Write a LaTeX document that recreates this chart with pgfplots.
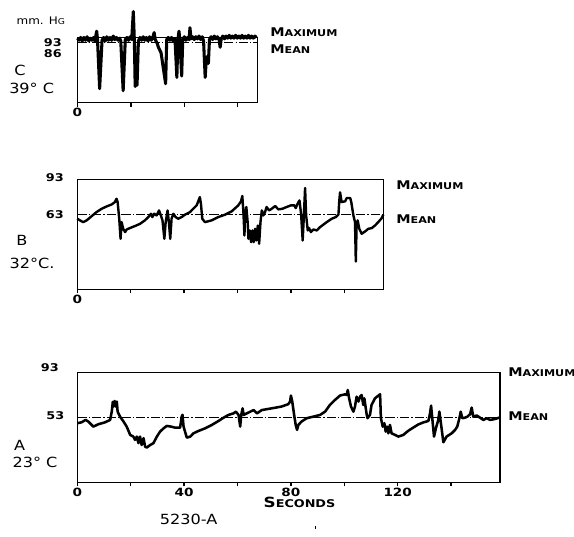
\documentclass[border=0pt]{standalone}
\usepackage{pgfplots}
\pgfplotsset{compat=1.18}
\usepackage{fontspec}
\setmainfont{DejaVu Sans}
\newfontfamily\lett[FakeStretch=1.15]{DejaVu Sans}
\newfontfamily\lettb[FakeStretch=1.2]{DejaVu Sans Bold}

% small-caps style lettering: big first letter, small rest
\newcommand\smc[2]{#1{\fontsize{7}{7}\selectfont #2}}

\pgfplotsset{
  panel/.style={scale only axis, anchor=south west,
    axis line style={line width=1pt},
    ytick=\empty, xtick pos=left, tick align=outside,
    major tick length=3pt,
    every tick/.style={black,line width=1pt},
    xticklabel style={font=\lettb\fontsize{8.5}{9}\selectfont, inner sep=1pt},
    clip=false},
  trace/.style={black, line width=1.9pt, line join=round},
  meanline/.style={black, line width=0.55pt,
    dash pattern=on 7pt off 1.6pt on 0.8pt off 1.6pt},
}

\begin{document}
\begin{tikzpicture}
\useasboundingbox (0,0) rectangle (430.5pt,402pt);

% ---------- C, 39 C ----------
\begin{axis}[panel, at={(58.1pt,325pt)}, width=134.85pt, height=48.9pt,
  xmin=0, xmax=67.3, ymin=0, ymax=93,
  xtick={0,20,40,60}, xticklabels={0,,,}]
\addplot[meanline] coordinates {(0,86) (67.3,86)};
\addplot[trace, line width=2.3pt] coordinates {
 (0,92) (0.6,89) (1.2,93) (1.8,88) (2.4,93) (3,89) (3.6,94) (4.2,88)
 (4.8,92) (5.4,89) (6,93) (6.5,88) (7,98) (7.2,102) (7.5,90) (8.3,20)
 (9.2,89) (9.8,93) (10.4,88) (11,94) (11.6,89) (12.2,93) (12.8,89)
 (13.4,95) (14,90) (14.6,93) (15.2,89) (15.8,92) (16.2,88) (17.1,17)
 (17.9,90) (18.5,93) (19.1,89) (19.7,94) (20.3,90) (20.9,130) (21.3,88)
 (21.6,23) (22,37) (22.3,25) (22.8,88) (23.4,93) (24,89) (24.6,94)
 (25.2,89) (25.8,93) (26.4,88) (27,94) (27.6,89) (28.2,93) (28.7,100)
 (29.1,90) (29.8,85) (30.3,79) (31.3,71) (32.1,50) (33,27) (33.4,90)
 (34,93) (34.6,89) (35.2,93) (35.8,88) (36.5,91) (37.2,36) (37.6,90)
 (38,102) (38.3,90) (39,38) (39.4,90) (40,94) (40.6,89) (41.2,93)
 (41.8,90) (42.1,107) (42.5,91) (43.1,94) (43.7,90) (44.3,94) (44.9,91)
 (45.5,95) (46.1,90) (46.7,94) (47.2,88) (47.8,36) (48.2,60) (48.6,66)
 (49,56) (49.4,90) (50,94) (50.6,90) (51.2,95) (51.8,91) (52.4,94)
 (53,90) (53.4,79) (53.8,91) (54.4,95) (55,91) (55.6,95) (56.2,92)
 (56.8,96) (57.4,92) (58,95) (58.6,92) (59.2,96) (59.8,92) (60.4,95)
 (61,92) (61.6,96) (62.2,92) (62.8,95) (63.4,92) (64,96) (64.6,92)
 (65.2,95) (65.8,92) (66.4,95) (67,93)};
\end{axis}

% ---------- B, 32 C ----------
\begin{axis}[panel, at={(57.98pt,185pt)}, width=229.5pt, height=82.5pt,
  xmin=0, xmax=114.6, ymin=0, ymax=93,
  xtick={0,20,...,100}, xticklabels={0,,,,,}]
\addplot[meanline] coordinates {(0,63) (114.6,63)};
\addplot[trace, line width=1.8pt] coordinates {
 (0,59.7) (1,58.3) (2.2,56.8) (3.5,58.3) (5.4,61.9) (7.2,65.3) (9.1,68.1)
 (11,70.1) (12.9,71.8) (14.1,73.8) (14.7,76.6) (15.1,73.8) (15.7,59.7)
 (16.2,42.7) (16.6,56.8) (17.2,51.2) (17.9,48.4) (18.5,50.6) (19.7,51.8)
 (21.6,53.5) (23.5,55.4) (25.3,58.3) (26.6,61.1) (27.6,63.9) (28.1,61.1)
 (28.8,63.9) (29.7,62.5) (30.6,66.7) (31.3,62.5) (31.9,58.3) (32.6,42.7)
 (33.1,56.8) (33.8,66.7) (34.3,56.8) (34.8,42.7) (35.3,59.7) (36,63.9)
 (36.8,61.1) (37.8,59.7) (39.1,61.1) (40.3,63.1) (42.2,65.3) (43.4,68.1)
 (44.7,71) (45.9,78) (46.3,72.4) (46.8,59.7) (47.8,56.8) (50.3,58.3)
 (52.8,61.1) (55.3,63.1) (57.8,65.9) (60.3,71) (61.3,74.4) (61.8,78.9)
 (62.2,65.3) (62.6,45.5) (62.8,62.5) (63.3,69.6) (63.8,56.8) (64.1,42.7)
 (64.6,49.8) (65.1,39.9) (65.6,49.8) (66.1,39.9) (66.6,51.2) (67.1,41.3)
 (67.6,54) (68.1,38.5) (68.6,56.8) (69.1,66.7) (69.7,62.5) (70.3,65.3)
 (70.9,69.6) (71.8,66.7) (72.8,68.1) (74.1,70.4) (75.3,67.6) (76.8,68.1)
 (78.4,69.6) (80,71) (81.3,71) (81.8,68.7) (82.5,72.4) (83.2,75.2)
 (83.8,63.9) (84.4,41.3) (84.8,59.7) (85.3,85.7) (85.7,62.5) (86.3,49.8)
 (86.8,51.8) (87.5,48.4) (88.4,50.6) (89.7,49.8) (90.9,52.6) (92.1,54.6)
 (93.4,56.8) (95.3,59.7) (96.8,61.1) (97.8,63.2) (98.1,74.5) (98.4,82)
 (99,73.8) (100.3,74.4) (100.9,77.2) (102.2,77.2) (102.6,73.8) (103.4,62.5)
 (104,56.8) (104.3,23.5) (104.6,54) (105,58.3) (105.6,51.2) (106.5,47)
 (107.8,49) (109,51.2) (110.3,51.8) (111.5,54) (112.7,56.8) (114,60.2)
 (114.6,63.1)};
\end{axis}

% ---------- A, 23 C ----------
\begin{axis}[panel, at={(57.98pt,40.28pt)}, width=317pt, height=82.5pt,
  xmin=0, xmax=158.3, ymin=-4, ymax=93,
  xtick={0,20,...,140}, xticklabels={0,,40,,80,,120,}]
\addplot[meanline] coordinates {(0,53) (158.3,53)};
\addplot[trace] coordinates {
 (0,48.1) (1.6,48.9) (3.1,51.0) (4.1,49.6) (6,45.1) (7.9,47.2) (10.4,48.9)
 (12.3,51.0) (12.9,58.3) (13.3,67.0) (13.6,62.8) (14,67.7) (14.4,62.8)
 (14.8,67.2) (15.1,58.3) (16,53.9) (17.3,49.6) (18.5,45.1) (19.8,37.8)
 (21,36.3) (21.6,33.4) (22.3,36.3) (22.9,30.5) (23.5,36.3) (24.1,28.9)
 (24.8,34.9) (25.4,27.4) (26,26.6) (27.3,28.9) (28.5,30.5) (29.8,36.3)
 (31,40.7) (32.3,43.6) (33.5,45.7) (35.1,45.1) (36.6,44.2) (38.5,44.2)
 (39.1,53.9) (39.4,55.5) (39.8,45.1) (41,35.4) (42.3,36.3) (43.5,39.2)
 (45.4,41.3) (47.9,43.6) (50.4,46.6) (52.9,50.1) (54.8,53.0) (56.6,55.4)
 (58.5,56.8) (59.4,58.3) (60.4,55.4) (61,45.1) (61.4,55.4) (61.9,61.2)
 (62.3,55.4) (63.5,56.8) (64.8,58.3) (66,59.7) (67.3,56.8) (69.1,59.7)
 (71.5,60.7) (74,61.7) (76.5,62.8) (79,64.9) (79.7,67.2) (80,72.5)
 (80.5,67.2) (81.3,53.9) (81.8,46.6) (82.3,42.2) (82.8,46.6) (84,49.6)
 (85.9,52.5) (88.4,53.9) (90.9,55.4) (92.8,58.3) (94.6,64.2) (96.5,68.6)
 (98.4,72.5) (100.3,73.6) (100.9,73.0) (101.3,77.4) (101.8,70.1)
 (102.5,62.8) (103.4,58.3) (104,62.8) (104.6,71.5) (105.3,67.2)
 (105.9,71.5) (106.5,73.0) (107.1,64.2) (107.5,70.1) (108.4,55.4)
 (108.7,52.5) (109.6,55.4) (110.2,64.2) (111.5,70.1) (113.4,73.6)
 (113.7,52.5) (114.4,45.1) (115,48.1) (115.5,40.7) (116,45.1) (116.5,39.2)
 (117.1,46.6) (117.7,39.2) (119,37.8) (120.2,36.3) (122.1,37.8) (124,41.5)
 (126,44.5) (127.7,47) (129.6,48.8) (131.5,50.1) (132.1,56.8) (132.5,63.6)
 (133,51.0) (133.6,36.3) (134.3,43.6) (135.2,51.0) (135.6,58.3) (136.1,49.6)
 (137.1,31.3) (138.3,36.3) (140.2,39.2) (141.5,42.2) (142.3,45.1)
 (143.1,52.5) (143.6,58.3) (144.2,52.5) (145.2,53.0) (146.1,53.9)
 (147.1,56.0) (147.7,61.9) (148.3,53.9) (149.6,54.9) (150.8,53.0)
 (152.1,51.0) (153.3,52.5) (154.6,51.0) (156.4,51.8) (158,53.0)};
\end{axis}

% ---------- lettering, placed in reference pixel units ----------
\begin{scope}[x=0.75pt, y=-0.75pt, yshift=402pt, font=\lett]
 % C
 \node at (40.8,20.8) {\fontsize{7.8}{8}\selectfont mm. H{\fontsize{6}{6}\selectfont G}};
 \node[anchor=east, inner sep=0pt] at (62,42.7) {\lettb\fontsize{8}{8}\selectfont 93};
 \node[anchor=east, inner sep=0pt] at (62,53.7) {\lettb\fontsize{8}{8}\selectfont 86};
 \node at (20,70) {\fontsize{10.5}{11}\selectfont C};
 \node at (31.7,88.3) {\fontsize{10.5}{11}\selectfont 39° C};
 \node[anchor=west, inner sep=0pt] at (270,32.5) {\lettb\smc{\fontsize{9}{9}\selectfont M}{AXIMUM}};
 \node[anchor=west, inner sep=0pt] at (270,49.5) {\lettb\smc{\fontsize{9}{9}\selectfont M}{EAN}};
 % B
 \node[anchor=east, inner sep=0pt] at (64,178) {\lettb\fontsize{8}{8}\selectfont 93};
 \node[anchor=east, inner sep=0pt] at (64,215) {\lettb\fontsize{8}{8}\selectfont 63};
 \node at (22,240.5) {\fontsize{10.5}{11}\selectfont B};
 \node at (32,263.5) {\fontsize{10.5}{11}\selectfont 32°C.};
 \node[anchor=west, inner sep=0pt] at (396,185) {\lettb\smc{\fontsize{9}{9}\selectfont M}{AXIMUM}};
 \node[anchor=west, inner sep=0pt] at (396,219) {\lettb\smc{\fontsize{9}{9}\selectfont M}{EAN}};
 % A
 \node[anchor=east, inner sep=0pt] at (59,368) {\lettb\fontsize{8}{8}\selectfont 93};
 \node[anchor=east, inner sep=0pt] at (64.5,416) {\lettb\fontsize{8}{8}\selectfont 53};
 \node at (19.6,445.4) {\fontsize{10.5}{11}\selectfont A};
 \node at (35,462) {\fontsize{10.5}{11}\selectfont 23° C};
 \node[anchor=west, inner sep=0pt] at (508,372) {\lettb\smc{\fontsize{9}{9}\selectfont M}{AXIMUM}};
 \node[anchor=west, inner sep=0pt] at (508,416) {\lettb\smc{\fontsize{9}{9}\selectfont M}{EAN}};
 \node at (299.5,502.6) {\lettb\fontsize{10.5}{11}\selectfont S{\fontsize{8}{8}\selectfont ECONDS}};
 \node at (188.6,519.4) {\fontsize{10.5}{11}\selectfont 5230-A};
 \draw[line width=0.6pt] (315,525.5) -- (315,529);
\end{scope}
\end{tikzpicture}
\end{document}
